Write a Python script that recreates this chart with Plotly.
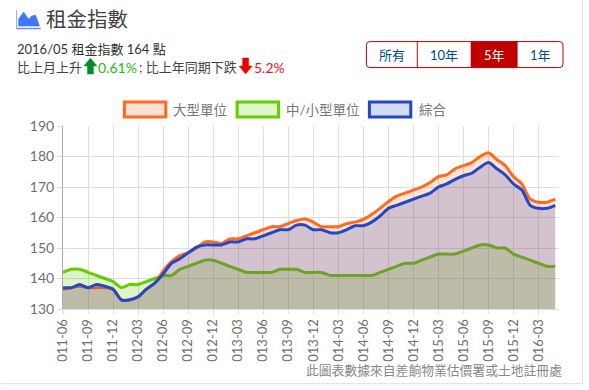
import plotly.graph_objects as go

W, H = 589, 390
L, R, T, B = 62.5, 559.5, 126, 309.2

months = ["011-06","011-07","011-08","011-09","011-10","011-11","011-12",
 "012-01","012-02","012-03","012-04","012-05","012-06","012-07","012-08","012-09","012-10","012-11","012-12",
 "013-01","013-02","013-03","013-04","013-05","013-06","013-07","013-08","013-09","013-10","013-11","013-12",
 "014-01","014-02","014-03","014-04","014-05","014-06","014-07","014-08","014-09","014-10","014-11","014-12",
 "015-01","015-02","015-03","015-04","015-05","015-06","015-07","015-08","015-09","015-10","015-11","015-12",
 "016-01","016-02","016-03","016-04","016-05"]
large = [136.5,137,137.5,137,137,137,136.5,
 133,133,134,136.5,138.5,142.5,145.5,147.5,148.5,150,152,152,
 151.5,153,153,154,155,156,157,157,158,159,159.5,158.5,
 157,157,157,158,158.5,159.4,161,163,165.2,167,168,169,
 170,171.5,173.4,174,176,177,178,180,181.2,179,177,173.4,
 171,166,165,165,166]
mid = [142,143,143,142,141,140,139,
 137,138,138,139,140,141,141,143,144,145,146,146,
 145,144,143,142,142,142,142,143,143,143,142,142,
 142,141,141,141,141,141,141,142,143,144,145,145,
 146,147,148,148,148,149,150,151,151,150,150,148,
 147,146,145,144,144]
overall = [137,137,138,137,138,137.5,136.5,
 133,133,134,136.5,138.5,141.5,145,146.5,148.4,150.3,151,151,
 151,152,152,153,153,154,155,156,156,157.5,157.5,156,
 156,155,155,156,157.3,157.3,158.5,160.5,163,164,165,166,
 167,168,170,171,172.5,173.7,174.5,176.5,178,176,174,171,
 169,164,163,163,164]
series_names = ["大型單位", "中/小型單位", "綜合"]
y_ticks = [130, 140, 150, 160, 170, 180, 190]
range_buttons = ["所有", "10年", "5年", "1年"]

ORANGE, GREEN, BLUE = "#ff6a21", "#66cc00", "#2447c4"
FONT = "Lato, Noto Sans CJK TC"
GRAY = "#6e6e6e"

def px(x): return (x - L) / (R - L)
def py(y): return (B - y) / (B - T)

fig = go.Figure()
for vals, name, col, fc in [
    (mid, series_names[1], GREEN, "rgba(102,204,0,0.22)"),
    (large, series_names[0], ORANGE, "rgba(255,102,0,0.18)"),
    (overall, series_names[2], BLUE, "rgba(36,71,196,0.2)"),
]:
    fig.add_trace(go.Scatter(x=months, y=vals, name=name, mode="lines",
                             line=dict(color=col, width=3, shape="spline", smoothing=0.7),
                             fill="tozeroy", fillcolor=fc))

shapes, notes = [], []

def rect(x0, y0, x1, y1, line=None, fill=None, w=1):
    shapes.append(dict(type="rect", xref="paper", yref="paper", x0=px(x0), x1=px(x1),
                       y0=py(y0), y1=py(y1), fillcolor=fill or "rgba(0,0,0,0)",
                       line=dict(color=line or "rgba(0,0,0,0)", width=w), layer="above"))

def poly(points, fill, line=None):
    d = "M" + " L".join(f"{px(a):.5f},{py(b):.5f}" for a, b in points) + " Z"
    shapes.append(dict(type="path", xref="paper", yref="paper", path=d, fillcolor=fill,
                       line=dict(color=line or fill, width=0.5), layer="above"))

def text(x, y, s, size, color, anchor="left"):
    notes.append(dict(xref="paper", yref="paper", x=px(x), y=py(y), text=s, showarrow=False,
                      xanchor=anchor, yanchor="middle", align=anchor,
                      font=dict(family=FONT, size=size, color=color), borderpad=0, borderwidth=0))

# heading icon and title
poly([(16,10),(16,28),(40,28),(40,29),(16,29)], "#7b8cf0")
poly([(18,26),(18,19),(23,12),(28,19),(31,16),(35,15),(39,26)], "#3f78f5")
text(45, 19, "租金指數", 20.5, "#444444")

# summary lines
text(16, 49, "2016/05 租金指數 164 點", 13, "#333333")
text(16, 67, "比上月上升", 13, "#444444")
poly([(90,58),(96.5,66),(93,66),(93,74),(87,74),(87,66),(83.5,66)], "#0a8a2a")
text(98, 67, "0.61%", 14, "#22bb11")
text(139, 67, "; 比上年同期下跌", 13, "#444444")
poly([(245.5,74),(239,66),(242.5,66),(242.5,58),(248.5,58),(248.5,66),(252,66)], "#ee0000")
text(254, 67, "5.2%", 14, "#ee1122")

# range buttons
rect(471, 41.5, 518, 67.5, fill="#c00000")
shapes.append(dict(type="path", xref="paper", yref="paper", layer="above",
    path=" ".join([f"M{px(370):.5f},{py(41.5):.5f}", f"L{px(560):.5f},{py(41.5):.5f}",
                   f"Q{px(563.5):.5f},{py(41.5):.5f} {px(563.5):.5f},{py(45):.5f}",
                   f"L{px(563.5):.5f},{py(64):.5f}",
                   f"Q{px(563.5):.5f},{py(67.5):.5f} {px(560):.5f},{py(67.5):.5f}",
                   f"L{px(370):.5f},{py(67.5):.5f}",
                   f"Q{px(366.5):.5f},{py(67.5):.5f} {px(366.5):.5f},{py(64):.5f}",
                   f"L{px(366.5):.5f},{py(45):.5f}",
                   f"Q{px(366.5):.5f},{py(41.5):.5f} {px(370):.5f},{py(41.5):.5f} Z"]),
    line=dict(color="#c00000", width=1)))
shapes.append(dict(type="line", xref="paper", yref="paper", x0=px(417.5), x1=px(417.5),
                   y0=py(41.5), y1=py(67.5), line=dict(color="#c00000", width=1), layer="above"))
for s, cx, col in zip(range_buttons, [392, 444, 494.5, 541], ["#004a8f", "#004a8f", "#ffffff", "#004a8f"]):
    text(cx, 55, s, 13, col, "center")

# legend boxes
for (x0, x1, tx), name, col, fc in zip(
        [(124, 165.5, 173), (237, 278.5, 286), (369.5, 411, 419)], series_names,
        [ORANGE, GREEN, BLUE], ["#ffe1d3", "#e0f5cc", "#d3daf3"]):
    rect(x0, 102, x1, 117, line=col, fill=fc, w=3)
    text(tx, 110, name, 13.5, "#777777")

# source note and panel edge
text(563, 370.5, "此圖表數據來自差餉物業估價署或土地註冊處", 12.8, "#888888", "right")
shapes.append(dict(type="line", xref="paper", yref="paper", x0=px(0), x1=px(583), y0=py(384), y1=py(384),
                   line=dict(color="#dddddd", width=1), layer="below"))
shapes.append(dict(type="line", xref="paper", yref="paper", x0=px(583), x1=px(583), y0=py(384), y1=py(0),
                   line=dict(color="#dddddd", width=1), layer="below"))

fig.update_layout(
    width=W, height=H, autosize=False, showlegend=False,
    margin=dict(l=L, r=W - R, t=T, b=H - B, autoexpand=False),
    paper_bgcolor="white", plot_bgcolor="white",
    shapes=shapes, annotations=notes,
    font=dict(family=FONT, color=GRAY),
    xaxis=dict(type="category", categoryorder="array", categoryarray=months,
               range=[0, 59.45], tickvals=months[::3], ticktext=months[::3],
               tickangle=-90, tickfont=dict(size=13, color=GRAY, family=FONT),
               ticks="outside", ticklen=4, tickcolor="#dddddd",
               showgrid=True, gridcolor="#dddddd", gridwidth=1,
               showline=True, linecolor="#dddddd", linewidth=1, zeroline=False),
    yaxis=dict(range=[130, 190], tickvals=y_ticks, tickfont=dict(size=14, color=GRAY, family=FONT),
               ticks="outside", ticklen=5, tickcolor="#dddddd",
               showgrid=True, gridcolor="#dddddd", gridwidth=1,
               showline=True, linecolor="#aaaaaa", linewidth=1, zeroline=False),
)
fig.write_html("out.html", config=dict(displayModeBar=False),
               post_script="document.body.style.margin='0';document.body.style.overflow='hidden';")
